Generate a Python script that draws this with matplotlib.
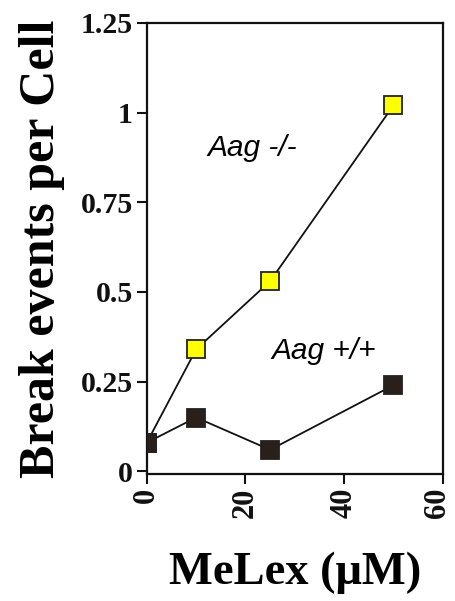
import matplotlib.pyplot as plt
from matplotlib.transforms import ScaledTranslation

# MeLex dose (uM) and break events per cell
dose = [0, 10, 25, 50]
aag_ko = [0.08, 0.34, 0.53, 1.02]   # Aag -/-
aag_wt = [0.08, 0.15, 0.06, 0.24]   # Aag +/+

xticks = [0, 20, 40, 60]
yticks = [0, 0.25, 0.5, 0.75, 1, 1.25]
ytick_labels = ['0', '0.25', '0.5', '0.75', '1', '1.25']

serif = ['Liberation Serif', 'DejaVu Serif']
sans = ['Liberation Sans', 'DejaVu Sans']

fig = plt.figure(figsize=(4.56, 6.01), dpi=100)
ax = fig.add_axes([0.322, 0.211, 0.649, 0.751])

ax.plot(dose, aag_ko, '-s', color='#111111', lw=1.3, ms=13,
        mfc='#ffff00', mec='#222222', mew=1.3, zorder=3)
ax.plot(dose, aag_wt, '-s', color='#111111', lw=1.3, ms=13,
        mfc='#2b1f1a', mec='#222222', mew=1.3, zorder=4)

ax.text(21.3, 0.90, 'Aag -/-', family=sans, style='italic', fontsize=21.5,
        ha='center', va='center')
ax.text(35.8, 0.335, 'Aag +/+', family=sans, style='italic', fontsize=21.5,
        ha='center', va='center')

ax.set_xlim(0, 60)
ax.set_ylim(-0.008, 1.25)
ax.set_xticks(xticks)
ax.set_xticklabels([str(v) for v in xticks], rotation=90, family=serif,
                   fontweight='bold', fontsize=22)
ax.set_yticks(yticks)
ax.set_yticklabels(ytick_labels, family=serif, fontweight='bold', fontsize=21.5)
ax.tick_params(direction='out', length=7, width=1.5, colors='#111111', pad=3)

# keep the last x label inside the figure edge
last = ax.get_xticklabels()[-1]
last.set_transform(last.get_transform() + ScaledTranslation(-5 / 100, 0, fig.dpi_scale_trans))

for s in ax.spines.values():
    s.set_linewidth(1.6)
    s.set_color('#111111')

ax.set_ylabel('Break events per Cell', family=serif, fontweight='bold',
              fontsize=36, labelpad=11)
ax.set_xlabel('MeLex (\u03bcM)', family=serif, fontweight='bold',
              fontsize=33.5, labelpad=24)

fig.savefig('out.png', dpi=100)
